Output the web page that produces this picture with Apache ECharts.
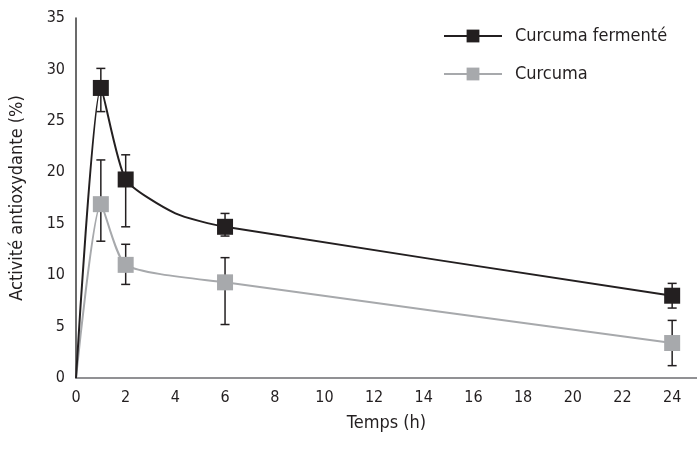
<!DOCTYPE html>
<html>
<head>
<meta charset="utf-8">
<script src="https://cdn.jsdelivr.net/npm/echarts@6/dist/echarts.min.js"></script>
<style>
  html, body { margin: 0; padding: 0; background: #fff; }
  #chart { width: 697px; height: 450px; }
</style>
</head>
<body>
<div id="chart"></div>
<script>
//////////Datos
var fontFam = '"Liberation Sans Narrow", "DejaVu Sans Condensed", sans-serif';

// temps (h) with markers + error bars
var markedTimes = [1, 2, 6, 24];

// Curcuma fermenté (line goes through an extra vertex at 4 h)
var fermenteX = [0, 1, 2, 4, 6, 24];
var fermenteY = [0, 28.2, 19.3, 16.0, 14.7, 8.0];
var fermenteLow = [25.9, 14.7, 13.8, 6.8];
var fermenteHigh = [30.1, 21.7, 16.0, 9.2];

// Curcuma
var curcumaX = [0, 1, 2, 6, 24];
var curcumaY = [0, 16.9, 11.0, 9.3, 3.4];
var curcumaLow = [13.3, 9.1, 5.2, 1.2];
var curcumaHigh = [21.2, 13.0, 11.7, 5.6];

var xTicks = [0, 2, 4, 6, 8, 10, 12, 14, 16, 18, 20, 22, 24];
var yTicks = [0, 5, 10, 15, 20, 25, 30, 35];

//////////Helpers
function pairs(xs, ys) {
    var out = [];
    for (var i = 0; i < xs.length; i++) out.push([xs[i], ys[i]]);
    return out;
}
function errData(lows, highs) {
    var out = [];
    for (var i = 0; i < markedTimes.length; i++) out.push([markedTimes[i], lows[i], highs[i]]);
    return out;
}
function renderErr(params, api) {
    var x = api.value(0);
    var lo = api.coord([x, api.value(1)]);
    var hi = api.coord([x, api.value(2)]);
    var cap = 4.5;
    var st = { stroke: '#231f20', lineWidth: 1.5 };
    return {
        type: 'group',
        children: [
            { type: 'line', shape: { x1: lo[0], y1: lo[1], x2: hi[0], y2: hi[1] }, style: st },
            { type: 'line', shape: { x1: lo[0] - cap, y1: lo[1], x2: lo[0] + cap, y2: lo[1] }, style: st },
            { type: 'line', shape: { x1: hi[0] - cap, y1: hi[1], x2: hi[0] + cap, y2: hi[1] }, style: st }
        ]
    };
}
function markerSize(v) {
    return markedTimes.indexOf(v[0]) >= 0 ? 16 : 0;
}

//////////Chart
var chart = echarts.init(document.getElementById('chart'));
var option = {
    animation: false,
    textStyle: { fontFamily: fontFam },
    grid: { left: 75, right: 0, top: 18, bottom: 72 },
    legend: {
        orient: 'vertical',
        left: 438,
        top: 22,
        itemWidth: 58,
        itemHeight: 16,
        itemGap: 20,
        textStyle: { fontFamily: fontFam, fontSize: 18, color: '#231f20', padding: [0, 0, 0, 8] },
        data: ['Curcuma fermenté', 'Curcuma']
    },
    xAxis: {
        type: 'value',
        min: 0,
        max: 25,
        interval: 2,
        name: 'Temps (h)',
        nameLocation: 'middle',
        nameGap: 36,
        nameTextStyle: { fontFamily: fontFam, fontSize: 18, color: '#231f20' },
        axisLine: { lineStyle: { color: '#6d6e71', width: 1.5 } },
        axisTick: { show: false },
        splitLine: { show: false },
        axisLabel: {
            fontFamily: fontFam, fontSize: 16, color: '#231f20', margin: 12,
            showMaxLabel: false,
            formatter: function (v) { return xTicks.indexOf(v) >= 0 ? String(v) : ''; }
        }
    },
    yAxis: {
        type: 'value',
        min: 0,
        max: 35,
        interval: 5,
        name: 'Activité antioxydante (%)',
        nameLocation: 'middle',
        nameGap: 50,
        nameTextStyle: { fontFamily: fontFam, fontSize: 18, color: '#231f20' },
        axisLine: { show: true, lineStyle: { color: '#3a3a3a', width: 1.5 } },
        axisTick: { show: false },
        splitLine: { show: false },
        axisLabel: {
            fontFamily: fontFam, fontSize: 16, color: '#231f20', margin: 11,
            formatter: function (v) { return yTicks.indexOf(v) >= 0 ? String(v) : ''; }
        }
    },
    series: [
        {
            name: 'err1', type: 'custom', renderItem: renderErr, z: 1,
            data: errData(fermenteLow, fermenteHigh), encode: { x: 0, y: [1, 2] }
        },
        {
            name: 'err2', type: 'custom', renderItem: renderErr, z: 1,
            data: errData(curcumaLow, curcumaHigh), encode: { x: 0, y: [1, 2] }
        },
        {
            name: 'Curcuma', type: 'line', z: 2,
            data: pairs(curcumaX, curcumaY),
            smooth: 0.2,
            symbol: 'rect',
            symbolSize: markerSize,
            itemStyle: { color: '#a7a9ac' },
            lineStyle: { color: '#a7a9ac', width: 2 }
        },
        {
            name: 'Curcuma fermenté', type: 'line', z: 3,
            data: pairs(fermenteX, fermenteY),
            smooth: 0.2,
            symbol: 'rect',
            symbolSize: markerSize,
            itemStyle: { color: '#231f20' },
            lineStyle: { color: '#231f20', width: 2 }
        }
    ]
};
chart.setOption(option);
</script>
</body>
</html>
